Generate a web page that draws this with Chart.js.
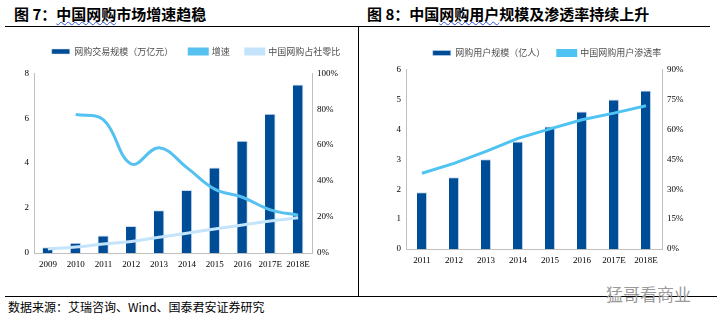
<!DOCTYPE html>
<html>
<head>
<meta charset="utf-8">
<script src="https://cdn.jsdelivr.net/npm/chart.js@4.4.0/dist/chart.umd.min.js"></script>
<style>
  body { margin: 0; background: #fff; width: 720px; height: 323px; position: relative; overflow: hidden; font-family: "Noto Sans CJK SC", sans-serif; }
  .title { position: absolute; top: 3px; font-size: 15px; font-weight: bold; color: #000; white-space: nowrap; }
  .title u { text-decoration: underline wavy #3355dd; text-decoration-thickness: 1px; text-underline-offset: 1px; }
  .hline { position: absolute; height: 1px; background: #000; }
  .vline { position: absolute; width: 1px; background: #000; }
  .box { position: absolute; }
  .src { position: absolute; left: 8px; top: 298px; font-size: 12px; color: #000; white-space: nowrap; }
  .mark { position: absolute; left: 606px; top: 281px; font-size: 17px; color: #9a9a9a; white-space: nowrap; }
</style>
</head>
<body>
<div class="title" style="left:14px">图&nbsp;7：<u>中国网购</u>市场增速趋稳</div>
<div class="title" style="left:367px">图&nbsp;8：中国<u>网购用户</u>规模及渗透率持续上升</div>
<div class="hline" style="left:5px; top:26px; width:705px"></div>
<div class="vline" style="left:358px; top:26px; height:270px"></div>
<div class="hline" style="left:5px; top:296px; width:712px"></div>
<div class="box" style="left:0; top:30px; width:356px; height:248px"><canvas id="c1"></canvas></div>
<div class="box" style="left:362px; top:30px; width:356px; height:245px"><canvas id="c2"></canvas></div>
<div class="src">数据来源：艾瑞咨询、Wind、国泰君安证券研究</div>
<div class="mark">猛哥看商业</div>
<script>
// 图7 数据
const years1 = ["2009", "2010", "2011", "2012", "2013", "2014", "2015", "2016", "2017E", "2018E"];
const tradeScale = [0.26, 0.46, 0.78, 1.2, 1.9, 2.8, 3.8, 5.0, 6.2, 7.5];
const growthRate = [null, 77, 74, 49.5, 58.5, 47.5, 35.5, 31, 24, 21];
const retailShare = [2.2, 3.3, 5.0, 6.4, 8.8, 11, 13.4, 15.6, 17.8, 19.6];

// 图8 数据
const years2 = ["2011", "2012", "2013", "2014", "2015", "2016", "2017E", "2018E"];
const userScale = [1.9, 2.4, 3.0, 3.6, 4.1, 4.6, 5.0, 5.3];
const penetration = [38, 43, 49, 55.5, 60.3, 64.9, 68.2, 71.9];

const barColor = "#004d97";
const tickFont = { family: "Liberation Serif", size: 9 };
const axisGrey = "#bfbfbf";

function legendOpts(pad) {
  return {
    display: true,
    position: "top",
    labels: {
      boxWidth: 18,
      boxHeight: 5,
      padding: pad,
      color: "#4d4d4d",
      font: { family: "Noto Sans CJK SC", size: 9 },
      sort: (a, b) => a.datasetIndex - b.datasetIndex,
    },
  };
}

// empty title used only as a gap between legend and plot
function gap(px) {
  return {
    display: true,
    text: "",
    weight: 500,
    font: { size: 1 },
    padding: { top: 0, bottom: px },
  };
}

// nudge the legend sideways
const legendShift = {
  id: "legendShift",
  afterLayout(chart, args, opts) {
    chart.legend.left += opts.dx;
    chart.legend.right += opts.dx;
  },
};

function yAxis(position, min, max, step, width, fmt) {
  return {
    position: position,
    min: min,
    max: max,
    grid: { display: false, drawTicks: true, tickLength: 3, color: axisGrey },
    border: { color: axisGrey, width: 1 },
    ticks: {
      stepSize: step,
      color: "#000",
      font: tickFont,
      padding: 2,
      callback: fmt,
    },
    afterFit: (scale) => {
      scale.width = width;
    },
  };
}

function xAxis(height) {
  return {
    grid: { display: false, drawTicks: false },
    border: { color: axisGrey, width: 1 },
    ticks: { color: "#000", font: tickFont, padding: 6, maxRotation: 0, autoSkip: false },
    afterFit: (scale) => {
      scale.height = height;
    },
  };
}

new Chart(document.getElementById("c1").getContext("2d"), {
  type: "bar",
  data: {
    labels: years1,
    datasets: [
      {
        type: "bar",
        label: "网购交易规模（万亿元）",
        data: tradeScale,
        backgroundColor: barColor,
        borderColor: "#c9dcef",
        borderWidth: { top: 1, right: 1, left: 0, bottom: 0 },
        barPercentage: 0.38,
        categoryPercentage: 1,
        yAxisID: "y",
        order: 3,
      },
      {
        type: "line",
        label: "增速",
        data: growthRate,
        borderColor: "#55c1f0",
        backgroundColor: "#55c1f0",
        borderWidth: 3,
        pointRadius: 0,
        tension: 0.4,
        yAxisID: "y1",
        order: 2,
      },
      {
        type: "line",
        label: "中国网购占社零比",
        data: retailShare,
        borderColor: "#c3e4fb",
        backgroundColor: "#c3e4fb",
        borderWidth: 3,
        pointRadius: 0,
        tension: 0.4,
        yAxisID: "y1",
        order: 1,
      },
    ],
  },
  plugins: [legendShift],
  options: {
    responsive: true,
    maintainAspectRatio: false,
    animation: false,
    layout: { padding: { top: 1, left: 0, right: 0, bottom: 0 } },
    plugins: {
      legend: legendOpts(16),
      title: gap(6),
      legendShift: { dx: 18 },
      tooltip: { enabled: false },
    },
    scales: {
      x: xAxis(25),
      y: yAxis("left", 0, 8, 2, 34, (v) => v),
      y1: yAxis("right", 0, 100, 20, 44, (v) => v + "%"),
    },
  },
});

new Chart(document.getElementById("c2").getContext("2d"), {
  type: "bar",
  data: {
    labels: years2,
    datasets: [
      {
        type: "bar",
        label: "网购用户规模（亿人）",
        data: userScale,
        backgroundColor: barColor,
        borderColor: "#c9dcef",
        borderWidth: { top: 1, right: 1, left: 0, bottom: 0 },
        barPercentage: 0.32,
        categoryPercentage: 1,
        yAxisID: "y",
        order: 2,
      },
      {
        type: "line",
        label: "中国网购用户渗透率",
        data: penetration,
        borderColor: "#4fc3f1",
        backgroundColor: "#4fc3f1",
        borderWidth: 3,
        pointRadius: 0,
        tension: 0,
        yAxisID: "y1",
        order: 1,
      },
    ],
  },
  plugins: [legendShift],
  options: {
    responsive: true,
    maintainAspectRatio: false,
    animation: false,
    layout: { padding: { top: 6, left: 0, right: 0, bottom: 0 } },
    plugins: {
      legend: legendOpts(12.5),
      title: gap(1),
      legendShift: { dx: 7 },
      tooltip: { enabled: false },
    },
    scales: {
      x: xAxis(26),
      y: yAxis("left", 0, 6, 1, 44, (v) => v),
      y1: yAxis("right", 0, 90, 15, 56, (v) => v + "%"),
    },
  },
});
</script>
</body>
</html>
